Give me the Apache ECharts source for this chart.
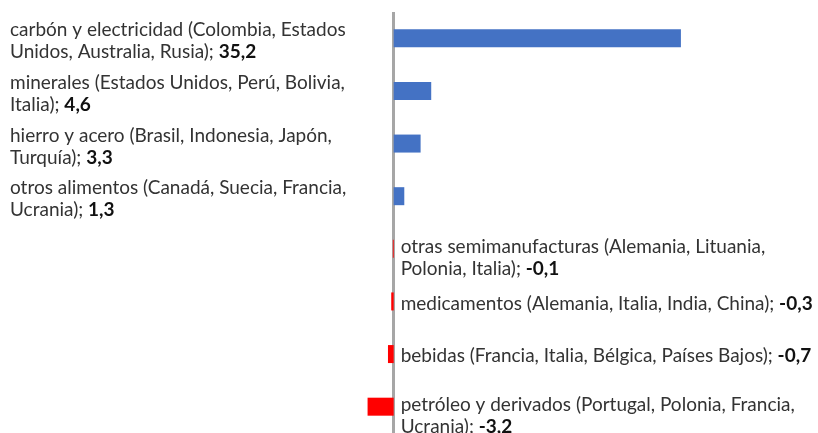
<!DOCTYPE html>
<html>
<head>
<meta charset="utf-8">
<script src="https://cdn.jsdelivr.net/npm/echarts@6/dist/echarts.min.js"></script>
<style>
  html, body { margin: 0; padding: 0; background: #fff; }
  #main { width: 818px; height: 433px; }
</style>
</head>
<body>
<div id="main"></div>
<script>
// productos (países); variación
var categories = [
  'carbón y electricidad (Colombia, Estados\nUnidos, Australia, Rusia)',
  'minerales (Estados Unidos, Perú, Bolivia,\nItalia)',
  'hierro y acero (Brasil, Indonesia, Japón,\nTurquía)',
  'otros alimentos (Canadá, Suecia, Francia,\nUcrania)',
  'otras semimanufacturas (Alemania, Lituania,\nPolonia, Italia)',
  'medicamentos (Alemania, Italia, India, China)',
  'bebidas (Francia, Italia, Bélgica, Países Bajos)',
  'petróleo y derivados (Portugal, Polonia, Francia,\nUcrania)'
];
var values = [35.2, 4.6, 3.3, 1.3, -0.1, -0.3, -0.7, -3.2];

var FONT = 'Lato';
var richText = {
  n: { fontFamily: FONT, fontSize: 19, color: '#333', lineHeight: 22 },
  b: { fontFamily: FONT, fontSize: 19, color: '#111', fontWeight: 'bold', lineHeight: 22 }
};

function fmt(v) {
  return v.toFixed(1).replace('.', ',');
}

function labelText(i) {
  return '{n|' + categories[i] + '}{n|; }{b|' + fmt(values[i]) + '}';
}

// las etiquetas de dos lineas a la derecha quedan algo mas abajo
var barData = values.map(function (v, i) {
  var two = categories[i].indexOf('\n') >= 0;
  return {
    value: v,
    label: { offset: [0, v < 0 && two ? 9 : 2] }
  };
});

var chart = echarts.init(document.getElementById('main'));

chart.setOption({
  animation: false,
  grid: { left: 2, right: 0, top: 12, bottom: -3 },
  xAxis: {
    type: 'value',
    min: -48,
    max: 52,
    show: false
  },
  yAxis: {
    type: 'category',
    inverse: true,
    data: categories,
    axisLine: { show: false, onZero: false },
    axisTick: { show: false },
    axisLabel: {
      inside: true,
      interval: 0,
      margin: 8,
      align: 'left',
      padding: [6, 0, 0, 0],
      formatter: function (name, idx) {
        // solo los positivos van a la izquierda
        if (values[idx] < 0) return '';
        return labelText(idx);
      },
      rich: richText
    }
  },
  series: [{
    type: 'bar',
    barWidth: 18,
    data: barData,
    itemStyle: {
      color: function (p) {
        return p.value >= 0 ? '#4472C4' : '#FF0000';
      }
    },
    label: {
      show: true,
      position: 'right',
      distance: 7,
      formatter: function (p) {
        if (p.value >= 0) return '';
        return labelText(p.dataIndex);
      },
      rich: richText
    },
    markLine: {
      silent: true,
      z: 1,
      symbol: 'none',
      label: { show: false },
      lineStyle: { color: '#A6A6A6', width: 3, type: 'solid' },
      data: [{ xAxis: 0 }]
    }
  }]
});
</script>
</body>
</html>
